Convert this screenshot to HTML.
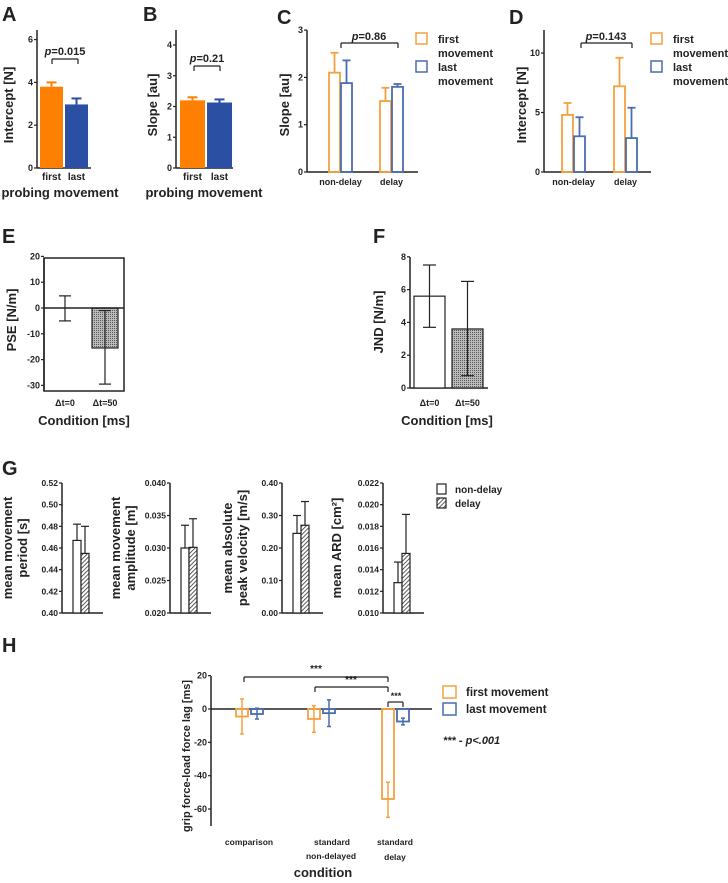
<!DOCTYPE html>
<html><head><meta charset="utf-8">
<style>
body{margin:0;background:#fff;}
svg{display:block;font-family:"Liberation Sans",Arial,sans-serif;}
text{font-weight:bold;fill:#222;}
</style></head>
<body>
<svg id="fig" width="728" height="883" viewBox="0 0 728 883" xmlns="http://www.w3.org/2000/svg">
<defs>
<pattern id="diag" patternUnits="userSpaceOnUse" width="3" height="3" patternTransform="rotate(45)"><rect width="3" height="3" fill="#fff"/><line x1="0" y1="0" x2="0" y2="3" stroke="#333" stroke-width="1.6"/></pattern>
<pattern id="dots" patternUnits="userSpaceOnUse" width="2" height="2"><rect width="2" height="2" fill="#bbb"/><rect width="1" height="1" fill="#555"/></pattern>
</defs>
</svg>
<script>
// ---- data ----
const aCats=["first","last"], aVals=[3.8,2.97], aErr=[4.0,3.25];
const bCats=["first","last"], bVals=[2.2,2.13], bErr=[2.3,2.23];
const cCats=["non-delay","delay"], cFirst=[2.1,1.5], cFirstErr=[2.52,1.78], cLast=[1.88,1.8], cLastErr=[2.36,1.86];
const dCats=["non-delay","delay"], dFirst=[4.8,7.2], dFirstErr=[5.8,9.6], dLast=[3.0,2.85], dLastErr=[4.6,5.4];
const eCats=["Δt=0","Δt=50"], eVals=[0,-15.5], eErrLo=[-5,-29.5], eErrHi=[4.7,-1];
const fCats=["Δt=0","Δt=50"], fVals=[5.6,3.6], fErrLo=[3.7,0.75], fErrHi=[7.5,6.5];
const gNon=[0.467,0.030,0.245,0.0128], gNonErr=[0.482,0.0335,0.30,0.0147];
const gDel=[0.455,0.0301,0.27,0.0155], gDelErr=[0.480,0.0345,0.343,0.0191];
const gMin=[0.40,0.020,0.00,0.010], gMax=[0.52,0.040,0.40,0.022], gStep=[0.02,0.005,0.10,0.002], gDec=[2,3,2,3];
const hCats=["comparison","standard non-delayed","standard delay"];
const hFirst=[-4.5,-6,-54], hFirstLo=[-15,-14,-65], hFirstHi=[6,2,-44];
const hLast=[-3,-2.5,-7.5], hLastLo=[-6,-10.5,-9.5], hLastHi=[0.5,5.5,-5.5];

const svg=document.getElementById('fig');
const NS="http://www.w3.org/2000/svg";
function el(tag,attrs,parent){const e=document.createElementNS(NS,tag);for(const k in attrs)e.setAttribute(k,attrs[k]);(parent||svg).appendChild(e);return e;}
function txt(x,y,s,size,anchor,extra){const t=el('text',Object.assign({x:x,y:y,'font-size':size,'text-anchor':anchor||'middle'},extra||{}));t.textContent=s;return t;}
function line(x1,y1,x2,y2,c,w){return el('line',{x1:x1,y1:y1,x2:x2,y2:y2,stroke:c||'#222','stroke-width':w||1.5});}
function mkLine(x1,y1,x2,y2,c,w){const e=document.createElementNS(NS,'line');e.setAttribute('x1',x1);e.setAttribute('y1',y1);e.setAttribute('x2',x2);e.setAttribute('y2',y2);e.setAttribute('stroke',c||'#222');e.setAttribute('stroke-width',w||1.5);return e;}
function errbar(x,y1,y2,half,c,w){const g=el('g',{});g.appendChild(mkLine(x,y1,x,y2,c,w));g.appendChild(mkLine(x-half,y2,x+half,y2,c,w));return g;}
function yaxis(x,yTop,yBot,ticks,scale,fmt,size){const g=el('g',{});g.appendChild(mkLine(x,yTop,x,yBot,'#222',1.5));ticks.forEach(v=>{const y=scale(v);g.appendChild(mkLine(x-3,y,x,y,'#222',1.2));const t=document.createElementNS(NS,'text');t.setAttribute('x',x-4);t.setAttribute('y',y+3);t.setAttribute('font-size',size||9);t.setAttribute('text-anchor','end');t.textContent=fmt(v);g.appendChild(t);});return g;}
function vtitle(x,y,s,size){return txt(x,y,s,size,'middle',{transform:'rotate(-90 '+x+' '+y+')'});}
function letter(x,y,s){const t=txt(x,y,s,20,'start');}
function bracket(x1,x2,y){const g=el('g',{fill:'none'});g.appendChild(mkLine(x1,y+5,x1,y,'#222',1.2));g.appendChild(mkLine(x1,y,x2,y,'#222',1.2));g.appendChild(mkLine(x2,y,x2,y+5,'#222',1.2));return g;}
function ptext(x,y,val,size){const t=el('text',{x:x,y:y,'font-size':size||11,'text-anchor':'middle'});const i=document.createElementNS(NS,'tspan');i.setAttribute('font-style','italic');i.textContent='p';t.appendChild(i);t.appendChild(document.createTextNode('='+val));return t;}

// ---- Panel A ----
letter(2,21,'A');
const aY=v=>168-v*21.4;
let ax=yaxis(37,30,168,[0,2,4,6],aY,v=>v);


line(37,168,91,168);
const aCol=['#ff8000','#2a4fa3'];
aVals.forEach((v,i)=>{const x=40+i*25;
 const r=el('rect',{x:x,y:aY(v),width:23,height:168-aY(v),fill:aCol[i]});
 
 
 errbar(x+11.5,aY(v),aY(aErr[i]),5,aCol[i],2);
 txt(x+11.5,180,aCats[i],10);});
bracket(52,78,59);ptext(65,55,'0.015');
vtitle(13,105,'Intercept [N]',13);
txt(60,197,'probing movement',13);

// ---- Panel B ----
letter(143,21,'B');
const bY=v=>168-v*30.75;
let bx=yaxis(176,30,168,[0,1,2,3,4],bY,v=>v);


line(176,168,233,168);
bVals.forEach((v,i)=>{const x=180+i*27;
 const r=el('rect',{x:x,y:bY(v),width:25,height:168-bY(v),fill:aCol[i]});
 
 
 errbar(x+12.5,bY(v),bY(bErr[i]),5,aCol[i],2);
 txt(x+12.5,180,bCats[i],10);});
bracket(194,220,66);ptext(207,62,'0.21');
vtitle(157,105,'Slope [au]',13);
txt(204,197,'probing movement',13);

const oOr='#f5a040', oBl='#4a6cb0';
function grouped(xAx,xEnd,yS,cats,first,fErr,last,lErr,pos){
 line(xAx,172,xEnd,172);
 cats.forEach((c,i)=>{const x=pos[i];
  const r1=el('rect',{x:x,y:yS(first[i]),width:11,height:172-yS(first[i]),fill:'none',stroke:oOr,'stroke-width':1.8});
  
  
  errbar(x+5.5,yS(first[i]),yS(fErr[i]),4,oOr,1.8);
  const r2=el('rect',{x:x+12,y:yS(last[i]),width:11,height:172-yS(last[i]),fill:'none',stroke:oBl,'stroke-width':1.8});
  
  
  errbar(x+17.5,yS(last[i]),yS(lErr[i]),4,oBl,1.8);
  txt(x+11.5,185,c,9);});
}
function legend2(x,y){
 const s1=el('rect',{x:x,y:y,width:11,height:11,fill:'none',stroke:oOr,'stroke-width':1.5});
 
 
 txt(x+22,y+10,'first',11,'start',{'font-weight':'normal'});txt(x+22,y+24,'movement',11,'start',{'font-weight':'normal'});
 const s2=el('rect',{x:x,y:y+28,width:11,height:11,fill:'none',stroke:oBl,'stroke-width':1.5});
 
 
 txt(x+22,y+38,'last',11,'start',{'font-weight':'normal'});txt(x+22,y+52,'movement',11,'start',{'font-weight':'normal'});
}
// ---- Panel C ----
letter(277,24,'C');
const cY=v=>172-v*47.3;
let cx=yaxis(307,30,172,[0,1,2,3],cY,v=>v);


grouped(307,418,cY,cCats,cFirst,cFirstErr,cLast,cLastErr,[329,380]);
bracket(341,398,43);ptext(369,40,'0.86');
vtitle(289,105,'Slope [au]',13);
legend2(416,33);

// ---- Panel D ----
letter(509,24,'D');
const dY=v=>172-v*11.9;
let dx=yaxis(544,30,172,[0,5,10],dY,v=>v);


grouped(544,651,dY,dCats,dFirst,dFirstErr,dLast,dLastErr,[562,614]);
bracket(581,632,43);ptext(606,40,'0.143');
vtitle(526,105,'Intercept [N]',13);
legend2(651,33);

// ---- Panel E ----
letter(2,243,'E');
const eY=v=>308-v*2.58;
el('rect',{x:44,y:258,width:80,height:133,fill:'none',stroke:'#222','stroke-width':1.5});
let ex=yaxis(44,258,391,[20,10,0,-10,-20,-30],eY,v=>v);


eVals.forEach((v,i)=>{const x=[52,92][i];
 const y0=Math.min(eY(0),eY(v)),h=Math.abs(eY(v)-eY(0));
 const r=el('rect',{x:x,y:y0,width:26,height:h,fill:i?'url(#dots)':'#fff',stroke:'#222','stroke-width':1.2});
 
 
 line(x+13,eY(eErrLo[i]),x+13,eY(eErrHi[i]),'#222',1.2);
 line(x+7,eY(eErrLo[i]),x+19,eY(eErrLo[i]),'#222',1.2);
 line(x+7,eY(eErrHi[i]),x+19,eY(eErrHi[i]),'#222',1.2);
 txt(x+13,406,eCats[i],9);});
line(44,eY(0),124,eY(0),'#222',1.5);
vtitle(16,320,'PSE [N/m]',13);
txt(84,425,'Condition [ms]',13);

// ---- Panel F ----
letter(373,243,'F');
const fY=v=>388-v*16.4;
let fx=yaxis(410,257,388,[0,2,4,6,8],fY,v=>v);


line(410,388,488,388);
fVals.forEach((v,i)=>{const x=[414,452][i];
 const r=el('rect',{x:x,y:fY(v),width:31,height:388-fY(v),fill:i?'url(#dots)':'#fff',stroke:'#222','stroke-width':1.2});
 
 
 line(x+15.5,fY(fErrLo[i]),x+15.5,fY(fErrHi[i]),'#222',1.2);
 line(x+9,fY(fErrLo[i]),x+22,fY(fErrLo[i]),'#222',1.2);
 line(x+9,fY(fErrHi[i]),x+22,fY(fErrHi[i]),'#222',1.2);
 txt(x+15.5,406,fCats[i],9);});
vtitle(383,322,'JND [N/m]',13);
txt(447,425,'Condition [ms]',13);

// ---- Panel G ----
letter(2,475,'G');
const gAx=[62,170,282,383];
const gTitles=[["mean movement","period [s]"],["mean movement","amplitude [m]"],["mean absolute","peak velocity [m/s]"],["mean ARD [cm²]"]];
gAx.forEach((x0,k)=>{
 const s=v=>613-(v-gMin[k])/(gMax[k]-gMin[k])*130;
 const ticks=[];for(let v=gMin[k];v<=gMax[k]+1e-9;v+=gStep[k])ticks.push(v);
 let ga=yaxis(x0,483,613,ticks,s,v=>v.toFixed(gDec[k]),8.5);
 
 
 line(x0,613,x0+41,613);
 const r1=el('rect',{x:x0+11,y:s(gNon[k]),width:8,height:613-s(gNon[k]),fill:'#fff',stroke:'#222','stroke-width':1.2});
 
 
 errbar(x0+15,s(gNon[k]),s(gNonErr[k]),4,'#222',1.2);
 const r2=el('rect',{x:x0+19,y:s(gDel[k]),width:8,height:613-s(gDel[k]),fill:'url(#diag)',stroke:'#222','stroke-width':1.2});
 
 
 errbar(x0+23,s(gDel[k]),s(gDelErr[k]),4,'#222',1.2);
 const tl=gTitles[k];
 if(tl.length==2){vtitle(x0-50,548,tl[0],13);vtitle(x0-35,548,tl[1],13);}
 else vtitle(x0-42,548,tl[0],13);
});
const gl1=el('rect',{x:437,y:484,width:9,height:10,fill:'#fff',stroke:'#222','stroke-width':1.2});


txt(455,493,'non-delay',10,'start',{'font-weight':'normal'});
const gl2=el('rect',{x:437,y:498,width:9,height:10,fill:'url(#diag)',stroke:'#222','stroke-width':1.2});


txt(455,507,'delay',10,'start',{'font-weight':'normal'});

// ---- Panel H ----
letter(2,652,'H');
const hY=v=>709-v*1.667;
let hx=yaxis(211,676,826,[20,0,-20,-40,-60],hY,v=>v);


line(211,709,432,709);
const hPos=[236,308,382];
hCats.forEach((c,i)=>{const x=hPos[i];
 const y1=hY(hFirst[i]);
 const r1=el('rect',{x:x,y:709,width:12,height:y1-709,fill:'none',stroke:oOr,'stroke-width':1.8});
 
 
 line(x+6,hY(hFirstLo[i]),x+6,hY(hFirstHi[i]),oOr,1.5);
 line(x+4,hY(hFirstLo[i]),x+8,hY(hFirstLo[i]),oOr,1.5);line(x+4,hY(hFirstHi[i]),x+8,hY(hFirstHi[i]),oOr,1.5);
 const y2=hY(hLast[i]);
 const r2=el('rect',{x:x+15,y:709,width:12,height:y2-709,fill:'none',stroke:oBl,'stroke-width':1.8});
 
 
 line(x+21,hY(hLastLo[i]),x+21,hY(hLastHi[i]),oBl,1.5);
 line(x+19,hY(hLastLo[i]),x+23,hY(hLastLo[i]),oBl,1.5);line(x+19,hY(hLastHi[i]),x+23,hY(hLastHi[i]),oBl,1.5);
});
txt(249,845,'comparison',8.5);
txt(332,845,'standard',8.5);txt(331,859,'non-delayed',8.5);
txt(395,845,'standard',8.5);txt(395,860,'delay',8.5);
txt(323,877,'condition',13);
vtitle(190,756,'grip force-load force lag [ms]',11);
bracket(244,388,677);txt(316,672,'***',10);
bracket(315,388,687);txt(351,683,'***',10);
bracket(388,403,702);txt(396,699,'***',9);
const hl1=el('rect',{x:443,y:686,width:13,height:12,fill:'none',stroke:oOr,'stroke-width':1.5});


txt(466,696,'first movement',11.5,'start',{'font-weight':'normal'});
const hl2=el('rect',{x:443,y:703,width:13,height:12,fill:'none',stroke:oBl,'stroke-width':1.5});


txt(466,713,'last movement',11.5,'start',{'font-weight':'normal'});
txt(443,744,'*** - p<.001',11,'start',{'font-style':'italic'});
</script>
</body></html>
